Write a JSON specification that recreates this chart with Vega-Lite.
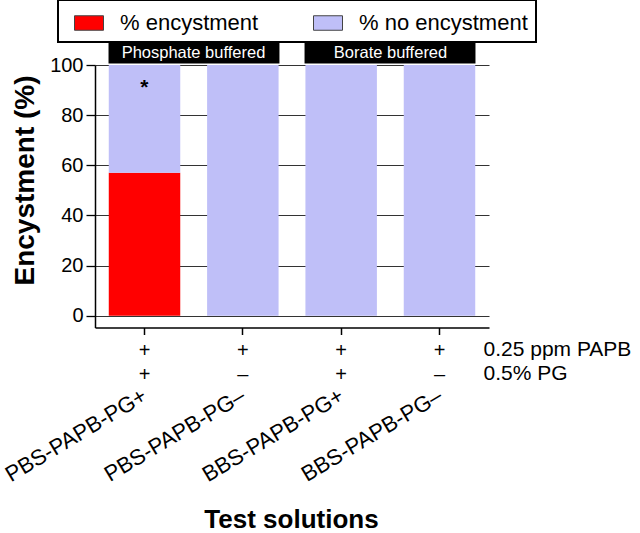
{
  "$schema": "https://vega.github.io/schema/vega-lite/v6.json",
  "width": 394,
  "height": 262.5,
  "autosize": {"type": "none"},
  "padding": {"left": 95, "top": 65, "right": 151, "bottom": 205.5},
  "background": "white",
  "config": {
    "view": {"stroke": null},
    "font": "Liberation Sans",
    "axis": {"labelFont": "Liberation Sans", "titleFont": "Liberation Sans", "labelColor": "black", "titleColor": "black"},
    "legend": {"labelFont": "Liberation Sans", "labelColor": "black"}
  },
  "datasets": {
    "bars": [
      {"solution": "PBS-PAPB-PG+", "outcome": "% encystment", "percent": 57},
      {"solution": "PBS-PAPB-PG+", "outcome": "% no encystment", "percent": 43},
      {"solution": "PBS-PAPB-PG–", "outcome": "% encystment", "percent": 0},
      {"solution": "PBS-PAPB-PG–", "outcome": "% no encystment", "percent": 100},
      {"solution": "BBS-PAPB-PG+", "outcome": "% encystment", "percent": 0},
      {"solution": "BBS-PAPB-PG+", "outcome": "% no encystment", "percent": 100},
      {"solution": "BBS-PAPB-PG–", "outcome": "% encystment", "percent": 0},
      {"solution": "BBS-PAPB-PG–", "outcome": "% no encystment", "percent": 100}
    ],
    "groups": [
      {"buffer": "Phosphate buffered"},
      {"buffer": "Borate buffered"}
    ],
    "notes": [
      {"solution": "PBS-PAPB-PG+", "sig": "*"}
    ]
  },
  "layer": [
    {
      "data": {"name": "bars"},
      "mark": {"type": "bar"},
      "encoding": {
        "x": {
          "field": "solution", "type": "nominal", "sort": null,
          "scale": {"domain": ["PBS-PAPB-PG+", "PBS-PAPB-PG–", "BBS-PAPB-PG+", "BBS-PAPB-PG–"], "paddingInner": 0.273, "paddingOuter": 0.14},
          "axis": {
            "orient": "bottom",
            "title": ["0.25 ppm PAPB", "0.5% PG"],
            "titleX": 388, "titleY": 28, "titleAlign": "left", "titleAngle": 0,
            "titleBaseline": "alphabetic", "titleFontSize": 21, "titleFontWeight": "normal", "titleLineHeight": 24,
            "labelExpr": "['+', indexof(datum.label, '+') >= 0 ? '+' : '–']",
            "labelAngle": 0, "labelAlign": "center", "labelBaseline": "alphabetic",
            "labelFontSize": 20, "labelLineHeight": 24, "labelPadding": 21.5, "labelOverlap": false,
            "ticks": true, "tickSize": 7, "tickColor": "black", "tickWidth": 1.5,
            "domainColor": "black", "domainWidth": 1.5, "grid": false
          }
        },
        "y": {
          "field": "percent", "type": "quantitative", "stack": "zero",
          "scale": {"domain": [-4.7, 100], "nice": false, "zero": false},
          "axis": {
            "values": [0, 20, 40, 60, 80, 100],
            "title": "Encystment (%)", "titleFontSize": 28, "titleFontWeight": "bold",
            "titleX": -62, "titleY": 115, "titleAngle": -90, "titleAlign": "center", "titleBaseline": "alphabetic",
            "labelFontSize": 20, "labelPadding": 3,
            "tickSize": 9, "tickColor": "black", "tickWidth": 1.3,
            "domainColor": "black", "domainWidth": 1.5,
            "grid": true, "gridColor": "#333333", "gridWidth": 1
          }
        },
        "color": {
          "field": "outcome", "type": "nominal",
          "scale": {"domain": ["% encystment", "% no encystment"], "range": ["#ff0000", "#bfbff8"]},
          "legend": {
            "orient": "none", "legendX": -37, "legendY": -65, "direction": "horizontal",
            "title": null, "labelFontSize": 22, "labelLimit": 400,
            "symbolType": "M-1,-0.5H1V0.5H-1Z", "symbolSize": 841,
            "symbolStrokeColor": "#444444", "symbolStrokeWidth": 1,
            "symbolOffset": 8, "labelOffset": 16, "columnPadding": 46,
            "padding": 8, "strokeColor": "black", "fillColor": "white", "cornerRadius": 0,
            "encode": {"legend": {"update": {"strokeWidth": {"value": 2}}}}
          }
        },
        "order": {"field": "outcome", "sort": "ascending"}
      }
    },
    {
      "data": {"name": "notes"},
      "mark": {"type": "text", "fontSize": 21, "fontWeight": "bold", "baseline": "alphabetic", "align": "center", "color": "black"},
      "encoding": {
        "x": {
          "field": "solution", "type": "nominal", "sort": null,
          "scale": {"domain": ["PBS-PAPB-PG+", "PBS-PAPB-PG–", "BBS-PAPB-PG+", "BBS-PAPB-PG–"], "paddingInner": 0.273, "paddingOuter": 0.14},
          "axis": {
            "orient": "bottom", "domain": false, "ticks": false, "tickSize": 0, "grid": false,
            "labelAngle": -31, "labelAlign": "right", "labelBaseline": "middle",
            "labelFontSize": 22, "labelPadding": 66, "labelOverlap": false, "labelBound": false,
            "title": "Test solutions", "titleFontSize": 26, "titleFontWeight": "bold",
            "titleX": 196, "titleY": 200, "titleBaseline": "alphabetic", "titleAlign": "center", "titleAngle": 0
          }
        },
        "y": {
          "datum": 88.5, "type": "quantitative",
          "axis": {
            "values": [0, 20, 40, 60, 80, 100],
            "title": "Encystment (%)", "titleFontSize": 28, "titleFontWeight": "bold",
            "titleX": -62, "titleY": 115, "titleAngle": -90, "titleAlign": "center", "titleBaseline": "alphabetic",
            "labelFontSize": 20, "labelPadding": 3,
            "tickSize": 9, "tickColor": "black", "tickWidth": 1.3,
            "domainColor": "black", "domainWidth": 1.5,
            "grid": true, "gridColor": "#333333", "gridWidth": 1
          }
        },
        "text": {"field": "sig"}
      }
    },
    {
      "data": {"name": "groups"},
      "mark": {"type": "rect", "color": "black"},
      "encoding": {
        "x": {
          "field": "buffer", "type": "nominal", "sort": null,
          "scale": {"domain": ["Phosphate buffered", "Borate buffered"], "paddingInner": 0.128, "paddingOuter": 0.069},
          "axis": null
        },
        "y": {
          "datum": 100.6, "type": "quantitative",
          "axis": {
            "values": [0, 20, 40, 60, 80, 100],
            "title": "Encystment (%)", "titleFontSize": 28, "titleFontWeight": "bold",
            "titleX": -62, "titleY": 115, "titleAngle": -90, "titleAlign": "center", "titleBaseline": "alphabetic",
            "labelFontSize": 20, "labelPadding": 3,
            "tickSize": 9, "tickColor": "black", "tickWidth": 1.3,
            "domainColor": "black", "domainWidth": 1.5,
            "grid": true, "gridColor": "#333333", "gridWidth": 1
          }
        },
        "y2": {"datum": 109.2}
      }
    },
    {
      "data": {"name": "groups"},
      "mark": {"type": "text", "color": "white", "fontSize": 16.5, "baseline": "middle", "align": "center"},
      "encoding": {
        "x": {
          "field": "buffer", "type": "nominal", "sort": null,
          "scale": {"domain": ["Phosphate buffered", "Borate buffered"], "paddingInner": 0.128, "paddingOuter": 0.069},
          "axis": null
        },
        "y": {
          "datum": 104.9, "type": "quantitative",
          "axis": {
            "values": [0, 20, 40, 60, 80, 100],
            "title": "Encystment (%)", "titleFontSize": 28, "titleFontWeight": "bold",
            "titleX": -62, "titleY": 115, "titleAngle": -90, "titleAlign": "center", "titleBaseline": "alphabetic",
            "labelFontSize": 20, "labelPadding": 3,
            "tickSize": 9, "tickColor": "black", "tickWidth": 1.3,
            "domainColor": "black", "domainWidth": 1.5,
            "grid": true, "gridColor": "#333333", "gridWidth": 1
          }
        },
        "text": {"field": "buffer"}
      }
    }
  ],
  "resolve": {"scale": {"x": "independent"}, "axis": {"x": "independent"}}
}
